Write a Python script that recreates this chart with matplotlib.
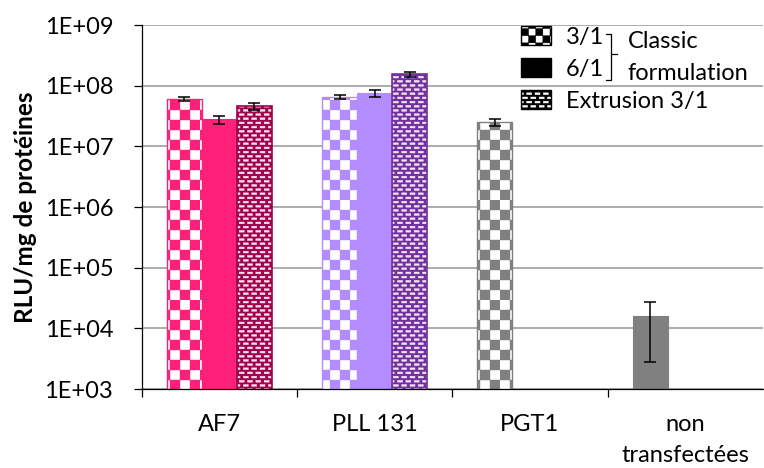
import numpy as np
import matplotlib
matplotlib.use("Agg")
import matplotlib.pyplot as plt
import matplotlib.hatch as mhatch
from matplotlib.path import Path
from matplotlib.patches import Patch
from matplotlib.lines import Line2D
from matplotlib.ticker import FixedLocator, FixedFormatter, NullLocator
from matplotlib.colors import to_rgba

# ---------------- data ----------------
categories = ["AF7", "PLL 131", "PGT1", "non\ntransfectées"]

classic_3_1 = [6.0e7, 6.5e7, 2.5e7, 1.58e4]
classic_3_1_low = [5.52e7, 6.1e7, 2.14e7, 2.82e3]
classic_3_1_high = [6.58e7, 6.93e7, 2.83e7, 2.75e4]

classic_6_1 = [2.8e7, 7.6e7, np.nan, np.nan]
classic_6_1_low = [2.36e7, 6.43e7, np.nan, np.nan]
classic_6_1_high = [3.13e7, 8.47e7, np.nan, np.nan]

extrusion_3_1 = [4.6e7, 1.56e8, np.nan, np.nan]
extrusion_3_1_low = [3.93e7, 1.41e8, np.nan, np.nan]
extrusion_3_1_high = [5.18e7, 1.68e8, np.nan, np.nan]

y_ticks = [1e3, 1e4, 1e5, 1e6, 1e7, 1e8, 1e9]
y_tick_labels = ["1E+03", "1E+04", "1E+05", "1E+06", "1E+07", "1E+08", "1E+09"]
y_label = "RLU/mg de protéines"
legend_labels = ["3/1", "6/1", "Extrusion 3/1"]
bracket_labels = ["Classic", "formulation"]

# ---------------- styles ----------------
light_colors = ["#FF2079", "#B38CFF", "#808080", "#808080"]
dark_colors = ["#A0004E", "#7030A0", "#404040", "#404040"]
checker_flags = [True, True, True, False]
FONT = ["Lato", "DejaVu Sans"]
FS = 17

plt.rcParams["font.family"] = FONT
plt.rcParams["hatch.linewidth"] = 0.3


# custom hatch patterns (checkerboard / small dashes)
class _Checker(mhatch.HatchPatternBase):
    def __init__(self, hatch, density):
        if "x" in hatch:
            self.n = 10
        elif "X" in hatch:
            self.n = 14
        else:
            self.n = 0
        self.cells = [(i, j) for i in range(self.n) for j in range(self.n)
                      if (i + j) % 2 == 0]
        self.num_vertices = 5 * len(self.cells)

    def set_vertices_and_codes(self, vertices, codes):
        s = 1.0 / self.n
        k = 0
        for i, j in self.cells:
            x0, y0 = i * s, j * s
            vertices[k:k + 5] = [(x0, y0), (x0 + s, y0), (x0 + s, y0 + s),
                                 (x0, y0 + s), (x0, y0)]
            codes[k] = Path.MOVETO
            codes[k + 1:k + 4] = Path.LINETO
            codes[k + 4] = Path.CLOSEPOLY
            k += 5


class _Dashes(mhatch.HatchPatternBase):
    rows, cols, w, h = 24, 12, 0.05, 0.018

    def __init__(self, hatch, density):
        self.on = "o" in hatch
        self.items = []
        if self.on:
            for r in range(self.rows):
                for c in range(self.cols):
                    cx = (c + 0.5 * (r % 2)) / self.cols
                    cy = (r + 0.5) / self.rows
                    for sh in (-1, 0, 1):
                        self.items.append((cx + sh, cy))
        self.num_vertices = 5 * len(self.items)

    def set_vertices_and_codes(self, vertices, codes):
        k = 0
        w, h = self.w / 2, self.h / 2
        for cx, cy in self.items:
            vertices[k:k + 5] = [(cx - w, cy - h), (cx + w, cy - h),
                                 (cx + w, cy + h), (cx - w, cy + h),
                                 (cx - w, cy - h)]
            codes[k] = Path.MOVETO
            codes[k + 1:k + 4] = Path.LINETO
            codes[k + 4] = Path.CLOSEPOLY
            k += 5


mhatch._hatch_types = [_Checker, _Dashes]

# ---------------- figure ----------------
W, H = 764, 468
fig = plt.figure(figsize=(W / 100, H / 100), dpi=100)
ax = fig.add_axes([141.5 / W, (H - 389) / H, (763 - 141.5) / W, (389 - 25) / H])
ax.set_yscale("log")

x = np.arange(len(categories))
bw = 0.225
series = [
    (classic_3_1, classic_3_1_low, classic_3_1_high, -bw),
    (classic_6_1, classic_6_1_low, classic_6_1_high, 0.0),
    (extrusion_3_1, extrusion_3_1_low, extrusion_3_1_high, bw),
]

for si, (vals, lows, highs, off) in enumerate(series):
    for ci in range(len(categories)):
        v = vals[ci]
        if np.isnan(v):
            continue
        xi = x[ci] + off
        if si == 0:
            if checker_flags[ci]:
                ax.bar(xi, v, width=bw, color="white", edgecolor=light_colors[ci],
                       hatch="x", linewidth=1.0, zorder=2)
            else:
                ax.bar(xi, v, width=bw, color=light_colors[ci],
                       edgecolor=light_colors[ci], linewidth=0.8, zorder=2)
        elif si == 1:
            ax.bar(xi, v, width=bw, color=light_colors[ci],
                   edgecolor=light_colors[ci], linewidth=0.8, zorder=2)
        else:
            bars = ax.bar(xi, v, width=bw, color=dark_colors[ci],
                          edgecolor=dark_colors[ci], hatch="o", linewidth=1.2,
                          zorder=2)
            for p in bars:
                p._hatch_color = to_rgba("#F6E6EE")
        ax.errorbar(xi, v, yerr=[[v - lows[ci]], [highs[ci] - v]], fmt="none",
                    ecolor="black", elinewidth=1.1, capsize=4.5, capthick=1.1,
                    zorder=3)

ax.set_xlim(-0.5, len(categories) - 0.5)
ax.set_ylim(y_ticks[0], y_ticks[-1])

# y axis
ax.yaxis.set_major_locator(FixedLocator(y_ticks))
ax.yaxis.set_major_formatter(FixedFormatter(y_tick_labels))
ax.yaxis.set_minor_locator(NullLocator())
ax.tick_params(axis="y", which="major", direction="out", length=6, width=0.9,
               pad=14.4, labelsize=FS, colors="black")
ax.yaxis.grid(True, which="major", color="#A6A6A6", linewidth=1.3)
ax.set_axisbelow(True)

# x axis: ticks at boundaries, labels at centers
ax.xaxis.set_major_locator(FixedLocator(np.arange(-0.5, len(categories) - 0.5, 1.0)))
ax.xaxis.set_major_formatter(FixedFormatter([""] * len(categories)))
ax.xaxis.set_minor_locator(FixedLocator(x))
ax.xaxis.set_minor_formatter(FixedFormatter(categories))
ax.tick_params(axis="x", which="major", direction="out", length=6, width=0.9)
ax.tick_params(axis="x", which="minor", length=0, pad=17.8, labelsize=FS)
for t in ax.get_xticklabels(minor=True):
    t.set_linespacing(1.6)

for s in ["top", "right"]:
    ax.spines[s].set_visible(False)
for s in ["left", "bottom"]:
    ax.spines[s].set_linewidth(0.9)
    ax.spines[s].set_color("black")

ax.set_ylabel(y_label, fontsize=17.5, fontweight="bold")
ax.yaxis.set_label_coords((37 - 141.5) / (763 - 141.5), 0.5)

# legend
handles = [
    Patch(facecolor="white", edgecolor="black", hatch="X", linewidth=1.0),
    Patch(facecolor="black", edgecolor="black"),
    Patch(facecolor="black", edgecolor="black", hatch="o"),
]
handles[2]._hatch_color = to_rgba("white")
leg = ax.legend(handles, legend_labels, loc="upper left",
                bbox_to_anchor=(521 / W, 1 - 26 / H), bbox_transform=fig.transFigure,
                frameon=False, fontsize=FS, handlelength=1.27, handleheight=0.85,
                handletextpad=0.62, labelspacing=0.44, borderpad=0, borderaxespad=0)


def px(xp, yp):
    return xp / W, 1 - yp / H


# bracket
bx = [606, 611, 611, 606]
by = [33.5, 33.5, 80, 80]
fig.add_artist(Line2D([px(a, b)[0] for a, b in zip(bx, by)],
                      [px(a, b)[1] for a, b in zip(bx, by)],
                      transform=fig.transFigure, color="black", linewidth=0.9))
fig.add_artist(Line2D([px(611, 0)[0], px(617, 0)[0]],
                      [px(0, 54)[1], px(0, 54)[1]],
                      transform=fig.transFigure, color="black", linewidth=0.9))
for lab, yb in zip(bracket_labels, [48, 80]):
    fig.text(628 / W, 1 - yb / H, lab, fontsize=FS, va="baseline", ha="left")

fig.savefig("out.png", dpi=100)
